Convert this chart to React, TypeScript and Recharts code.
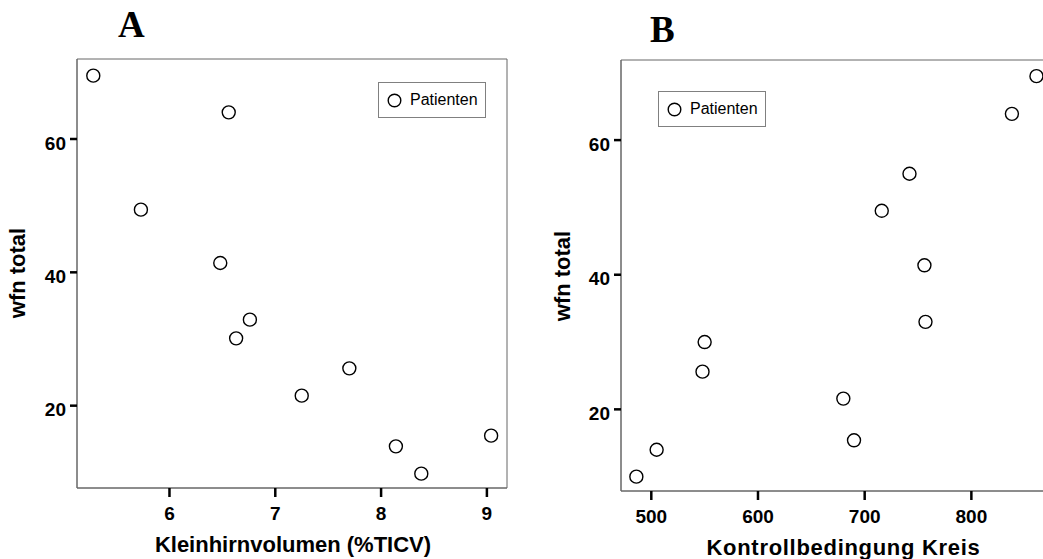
import React from 'react';
import { ScatterChart, Scatter, XAxis, YAxis, ReferenceArea, Legend } from 'recharts';

// Panel A: Kleinhirnvolumen vs wfn total
const kleinhirnA = [5.28, 6.56, 5.73, 6.48, 6.76, 6.63, 7.7, 7.25, 8.14, 8.38, 9.04];
const wfnA = [69.5, 64.0, 49.4, 41.4, 32.9, 30.1, 25.6, 21.5, 13.9, 9.8, 15.5];

// Panel B: Kontrollbedingung Kreis vs wfn total
const kreisB = [861, 838, 742, 716, 756, 757, 550, 548, 680, 690, 505, 486];
const wfnB = [69.5, 63.9, 55.0, 49.5, 41.4, 33.0, 30.0, 25.6, 21.6, 15.4, 14.0, 10.0];

const ticksA = [6, 7, 8, 9];
const ticksB = [500, 600, 700, 800];
const ticksY = [20, 40, 60];

const domainXA: [number, number] = [5.126, 9.19];
const domainYA: [number, number] = [7.65, 72];
const domainXB: [number, number] = [471.6, 873.7];
const domainYB: [number, number] = [7.87, 71.9];

const dataA = kleinhirnA.map((x, i) => ({ x, y: wfnA[i] }));
const dataB = kreisB.map((x, i) => ({ x, y: wfnB[i] }));

const SANS = '"Liberation Sans", Arial, sans-serif';
const tickStyle = { fill: '#000', fontSize: 19, fontWeight: 'bold', fontFamily: SANS };

const YTick = (props: any) => {
  const { x, y, payload } = props;
  return (
    <text x={x} y={y + 4} dy="0.355em" textAnchor="end" {...tickStyle}>
      {payload.value}
    </text>
  );
};

const OpenCircle = (props: any) => (
  <circle cx={props.cx} cy={props.cy} r={6.5} fill="#fff" stroke="#000" strokeWidth={1.4} />
);

const LegendBox = (props: any) => {
  const label = props.payload && props.payload[0] ? props.payload[0].value : 'Patienten';
  return (
    <div
      style={{
        boxSizing: 'border-box',
        width: 108,
        height: 36,
        border: '1px solid #808080',
        background: '#fff',
        display: 'flex',
        alignItems: 'center',
        paddingLeft: 8,
        fontFamily: SANS,
        fontSize: 16,
        color: '#000',
      }}
    >
      <svg width={15} height={15} style={{ marginRight: 8 }}>
        <circle cx={7.5} cy={7.5} r={6.3} fill="#fff" stroke="#000" strokeWidth={1.4} />
      </svg>
      <span>{label}</span>
    </div>
  );
};

interface PanelProps {
  data: { x: number; y: number }[];
  domainX: [number, number];
  domainY: [number, number];
  ticksX: number[];
  width: number;
  margin: { top: number; right: number; bottom: number; left: number };
  legendPos: { top: number; left: number };
}

const Panel: React.FC<PanelProps> = ({ data, domainX, domainY, ticksX, width, margin, legendPos }) => (
  <ScatterChart width={width} height={559} margin={margin}>
    <XAxis
      type="number"
      dataKey="x"
      domain={domainX}
      ticks={ticksX}
      allowDataOverflow
      height={40}
      axisLine={{ stroke: '#666' }}
      tickLine={{ stroke: '#000', strokeWidth: 2.5 }}
      tickSize={9}
      tickMargin={10}
      tick={tickStyle}
    />
    <YAxis
      type="number"
      dataKey="y"
      domain={domainY}
      ticks={ticksY}
      allowDataOverflow
      width={60}
      axisLine={{ stroke: '#666' }}
      tickLine={{ stroke: '#000', strokeWidth: 2.5 }}
      tickSize={7}
      tickMargin={4}
      tick={<YTick />}
    />
    <ReferenceArea
      x1={domainX[0]}
      x2={domainX[1]}
      y1={domainY[0]}
      y2={domainY[1]}
      fill="none"
      stroke="#666"
      strokeWidth={1}
      ifOverflow="visible"
    />
    <Legend
      layout="horizontal"
      verticalAlign="middle"
      align="center"
      content={<LegendBox />}
      wrapperStyle={{ top: legendPos.top, left: legendPos.left, width: 'auto' }}
    />
    <Scatter
      name="Patienten"
      data={data}
      shape={<OpenCircle />}
      fill="#fff"
      stroke="#000"
      isAnimationActive={false}
    />
  </ScatterChart>
);

const textBold = { fontFamily: SANS, fontWeight: 'bold', fontSize: 22, fill: '#000' } as const;

export default function App() {
  return (
    <div
      style={{
        position: 'absolute',
        left: 0,
        top: 0,
        width: 1043,
        height: 559,
        overflow: 'hidden',
        background: '#fff',
      }}
    >
      <div style={{ position: 'absolute', left: 0, top: 0 }}>
        <Panel
          data={dataA}
          domainX={domainXA}
          domainY={domainYA}
          ticksX={ticksA}
          width={520}
          margin={{ top: 59, right: 13, bottom: 31, left: 17 }}
          legendPos={{ top: 82, left: 378 }}
        />
      </div>
      <div style={{ position: 'absolute', left: 520, top: 0 }}>
        <Panel
          data={dataB}
          domainX={domainXB}
          domainY={domainYB}
          ticksX={ticksB}
          width={540}
          margin={{ top: 60, right: 10, bottom: 28, left: 41 }}
          legendPos={{ top: 91, left: 138 }}
        />
      </div>
      <svg
        width={1043}
        height={559}
        style={{ position: 'absolute', left: 0, top: 0, pointerEvents: 'none' }}
      >
        <text x={118} y={37.3} fontFamily='"Liberation Serif", "Times New Roman", serif' fontWeight="bold" fontSize={37}>
          A
        </text>
        <text x={650} y={41.7} fontFamily='"Liberation Serif", "Times New Roman", serif' fontWeight="bold" fontSize={37}>
          B
        </text>
        <text x={293} y={551.7} textAnchor="middle" {...textBold}>
          Kleinhirnvolumen (%TICV)
        </text>
        <text x={843.5} y={555} textAnchor="middle" letterSpacing={0.7} {...textBold}>
          Kontrollbedingung Kreis
        </text>
        <text x={25} y={273} textAnchor="middle" transform="rotate(-90 25 273)" {...textBold}>
          wfn total
        </text>
        <text x={570} y={276} textAnchor="middle" transform="rotate(-90 570 276)" {...textBold}>
          wfn total
        </text>
      </svg>
    </div>
  );
}
